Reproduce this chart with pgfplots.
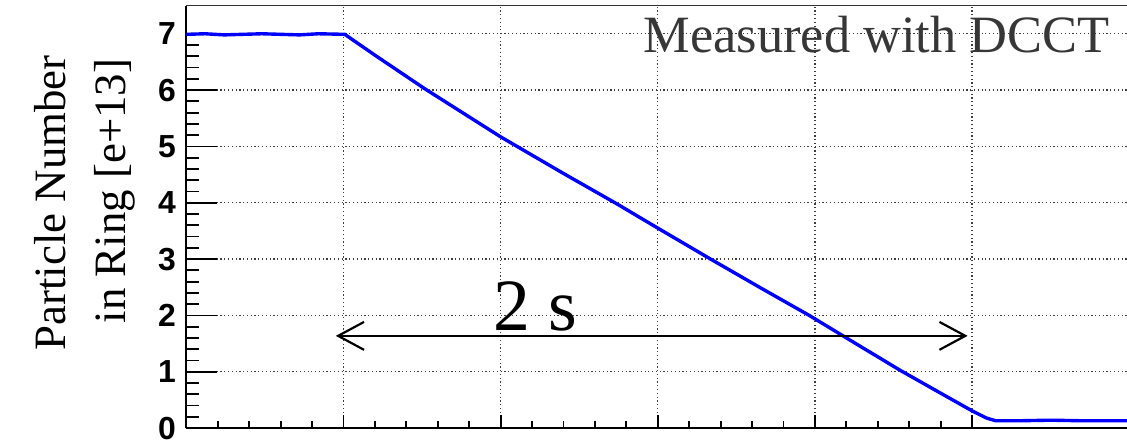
\documentclass[border=0pt]{standalone}
\usepackage{fontspec}
\setmainfont{Liberation Serif}
\setsansfont{Liberation Sans}
\usepackage{pgfplots}
\pgfplotsset{compat=1.18}
\usetikzlibrary{arrows.meta}
\definecolor{gridgray}{RGB}{60,60,60}
\definecolor{txtgray}{RGB}{55,55,55}
\newfontfamily\tickfont[Scale=1.0]{Liberation Sans Bold}
\begin{document}
\begin{tikzpicture}
\useasboundingbox (-93.5pt,-8.5pt) rectangle (472pt,214.8pt);
\begin{axis}[
  at={(0,0)}, anchor=south west,
  scale only axis, width=472pt, height=212pt,
  xmin=0, xmax=2.993, ymin=0, ymax=7.5,
  axis x line*=bottom, axis y line*=left,
  axis line style={line width=0.9pt, black, -},
  xtick={0,0.5,...,2.5}, minor x tick num=4,
  ytick={0,1,...,7}, minor y tick num=4,
  xticklabels={},
  tick align=inside,
  xtick style={line width=0.9pt, black, /pgfplots/major tick length=6.5pt, /pgfplots/minor tick length=3.5pt},
  ytick style={line width=0.9pt, black, /pgfplots/major tick length=15.5pt, /pgfplots/minor tick length=6.5pt},
  grid=major,
  major grid style={gridgray, line width=0.6pt, dash pattern=on 0.6pt off 1.3pt},
  /pgf/number format/assume math mode=true,
  yticklabels={0,1,2,3,4,5,6,7},
  yticklabel style={font=\tickfont\fontsize{16}{16}\selectfont, inner sep=0pt, xshift=-5pt},
  clip=false,
]
\addplot[blue, line width=1.7pt] coordinates {
  (0.000,6.99) (0.060,7.00) (0.120,6.98) (0.180,6.99) (0.240,7.00)
  (0.300,6.99) (0.360,6.98) (0.420,7.00) (0.504,6.99)
  (0.600,6.62) (0.757,6.03) (1.000,5.17) (1.200,4.52)
  (1.370,3.98) (1.500,3.55) (1.665,3.01) (1.830,2.48)
  (1.982,2.00) (2.130,1.50) (2.273,1.02) (2.400,0.62)
  (2.502,0.30) (2.545,0.18) (2.575,0.13)
  (2.650,0.13) (2.750,0.14) (2.850,0.13) (2.993,0.13)
};
\draw[line width=1.1pt, black, {Straight Barb[length=13pt,width=14pt]}-{Straight Barb[length=13pt,width=14pt]}]
  (axis cs:0.4756,1.637) -- (axis cs:2.486,1.637);
\node[anchor=base, inner sep=0pt, font=\fontsize{37}{37}\selectfont] at (axis cs:1.110,1.735) {2 s};
\node[anchor=base east, inner sep=0pt, text=txtgray, font=\fontsize{26.3}{26.3}\selectfont] at (axis cs:2.939,6.673) {Measured with DCCT};
\draw[line width=0.9pt, black!80] (rel axis cs:0,1) -- (rel axis cs:1,1);
\end{axis}
\node[rotate=90, anchor=base, inner sep=0pt, font=\fontsize{22.5}{22.5}\selectfont] at (-60.5pt,113pt) {Particle Number};
\node[rotate=90, anchor=base, inner sep=0pt, font=\fontsize{22.5}{22.5}\selectfont] at (-30.5pt,119pt) {in Ring [e+13]};
\end{tikzpicture}
\end{document}
